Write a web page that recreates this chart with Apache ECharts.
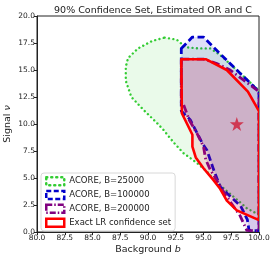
<!DOCTYPE html>
<html>
<head>
<meta charset="utf-8">
<script src="https://cdn.jsdelivr.net/npm/echarts@6/dist/echarts.min.js"></script>
<style>html,body{margin:0;padding:0;background:#fff;}#c{width:274px;height:260px;}</style>
</head>
<body>
<div id="c"></div>
<script>
// ---- data ----
var acore25000 = [[91.5,18.0],[92.6,17.8],[93.4,17.1],[94.5,17.0],[95.6,17.0],[96.5,16.4],[98.0,15.0],[100,13.1],[100,1.6],[99.8,1.7],[98.9,2.2],[98.35,2.7],[97.2,3.7],[96.1,4.7],[95.3,5.6],[94.4,6.4],[93.2,7.3],[92.3,8.3],[91.4,9.45],[90.8,10.1],[89.6,11.3],[88.5,12.5],[88.0,14.0],[88.0,15.3],[88.2,16.1],[89.1,17.0],[90.4,17.7]];
var acore100000 = [[93.0,17.0],[94.0,18.05],[95.0,18.05],[96.2,16.8],[97.7,15.3],[99.0,14.0],[100,13.0],[100,0.1],[99.1,0.15],[98.95,1.15],[98.35,2.4],[97.3,3.4],[96.5,4.2],[95.9,5.8],[95.3,7.6],[94.9,8.2],[93.8,10.4],[93.0,11.2]];
var acore200000 = [[93.0,16.0],[95.0,16.0],[96.2,15.6],[97.4,15.0],[100,13.0],[100,0.1],[98.9,0.15],[98.3,1.5],[97.0,3.4],[95.6,5.8],[95.2,6.7],[95.0,7.9],[94.4,9.15],[93.7,10.4],[93.2,11.8],[93.0,12.0]];
var exactLR = [[93.0,16.0],[95.2,16.0],[97.1,15.0],[99.0,13.0],[100,11.2],[100,1.1],[98.0,2.0],[97.1,2.9],[96.5,4.0],[95.9,4.8],[95.0,5.9],[94.3,6.9],[94.0,7.9],[94.0,9.0],[93.05,11.0]];
var truePoint = [[98.0,10.0]];
var seriesNames = ['ACORE, B=25000','ACORE, B=100000','ACORE, B=200000','Exact LR confidence set'];

var FONT = 'DejaVu Sans';
var styles = [
  {fill:'rgba(50,205,50,0.10)', stroke:'#33cc33', lineWidth:2.4, lineDash:[0.01,4.4], lineCap:'round'},
  {fill:'rgba(0,0,200,0.12)', stroke:'#0000cc', lineWidth:2.8, lineDash:[7,3.5], lineCap:'butt'},
  {fill:'rgba(128,0,128,0.10)', stroke:'#800080', lineWidth:2.8, lineDash:[8,3,1.5,3], lineCap:'butt'},
  {fill:'rgba(255,40,60,0.13)', stroke:'#ff0000', lineWidth:2.6, lineDash:null, lineCap:'butt'}
];
var polys = [acore25000, acore100000, acore200000, exactLR];

function polySeries(i){
  var st = styles[i];
  return {
    type:'custom', name:seriesNames[i], data:polys[i], clip:true,
    encode:{x:0,y:1},
    renderItem:function(params, api){
      if(params.dataIndex!==0) return null;
      var pts = polys[i].map(function(p){return api.coord(p);});
      return {type:'polygon', shape:{points:pts},
        style:{fill:st.fill, stroke:st.stroke, lineWidth:st.lineWidth, lineDash:st.lineDash, lineCap:st.lineCap, lineJoin:'round'}};
    },
    itemStyle:{color:st.stroke},
    z:2+i
  };
}

var nameRich = {n:{fontFamily:FONT,fontSize:9.5,fill:'#222',color:'#222'},i:{fontFamily:FONT,fontSize:9.5,fontStyle:'italic',fill:'#222',color:'#222'}};
var starPath = 'path://M50,0 L61.8,35.4 L99,35.4 L69.1,57.3 L80.3,92.7 L50,70.8 L19.7,92.7 L30.9,57.3 L1,35.4 L38.2,35.4 Z';
var legendBorder = [[1,4],[5,2.5],[6,2,1.5,2],'solid'];
var chart = echarts.init(document.getElementById('c'), null, {renderer:'canvas'});
chart.setOption({
  animation:false,
  textStyle:{fontFamily:FONT},
  title:{text:'90% Confidence Set, Estimated OR and C', left:148, textAlign:'center', top:1,
    textStyle:{fontFamily:FONT, fontSize:9.5, fontWeight:'normal', color:'#222'}},
  grid:{left:37, right:15, top:16, bottom:28, show:true, borderColor:'#222', borderWidth:1, backgroundColor:'transparent', containLabel:false, outerBoundsMode:'none'},
  graphic:[
    {type:'text', x:8, y:124, rotation:Math.PI/2, style:{text:'{n|Signal }{i|ν}', rich:nameRich, align:'center', verticalAlign:'middle', fill:'#222', font:'9.5px DejaVu Sans'}},
    {type:'text', x:148, y:250, style:{text:'{n|Background }{i|b}', rich:nameRich, align:'center', verticalAlign:'middle', fill:'#222', font:'9.5px DejaVu Sans'}}
  ],
  xAxis:{type:'value', min:80, max:100, interval:2.5,
    axisLine:{show:true, lineStyle:{color:'#222'}}, axisTick:{show:true, length:3, lineStyle:{color:'#222'}},
    axisLabel:{fontSize:7.5, color:'#222', margin:2, formatter:function(v){return v.toFixed(1);}},
    splitLine:{show:false}},
  yAxis:{type:'value', min:0, max:20, interval:2.5,
    axisLine:{show:true, lineStyle:{color:'#222'}}, axisTick:{show:true, length:3, lineStyle:{color:'#222'}},
    axisLabel:{fontSize:7.5, color:'#222', margin:2, formatter:function(v){return v.toFixed(1);}},
    splitLine:{show:false}},
  legend:{orient:'vertical', left:41, top:173, padding:[3,4,3,4], itemGap:3.3, itemWidth:18, itemHeight:8,
    backgroundColor:'rgba(255,255,255,0.85)', borderColor:'#d8d8d8', borderWidth:1, borderRadius:3,
    textStyle:{fontFamily:FONT, fontSize:8.5, color:'#222', lineHeight:10},
    data:seriesNames.map(function(n,i){
      return {name:n, icon:'rect', itemStyle:{color:'#fff', borderColor:styles[i].stroke, borderWidth:2.5, borderType:legendBorder[i], borderCap: i===0?'round':'butt'}};
    })},
  series:[polySeries(0), polySeries(1), polySeries(2), polySeries(3),
    {type:'scatter', name:'true', data:truePoint, symbol:starPath, symbolSize:14, itemStyle:{color:'#d01c36'}, z:10}]
});
</script>
</body>
</html>
